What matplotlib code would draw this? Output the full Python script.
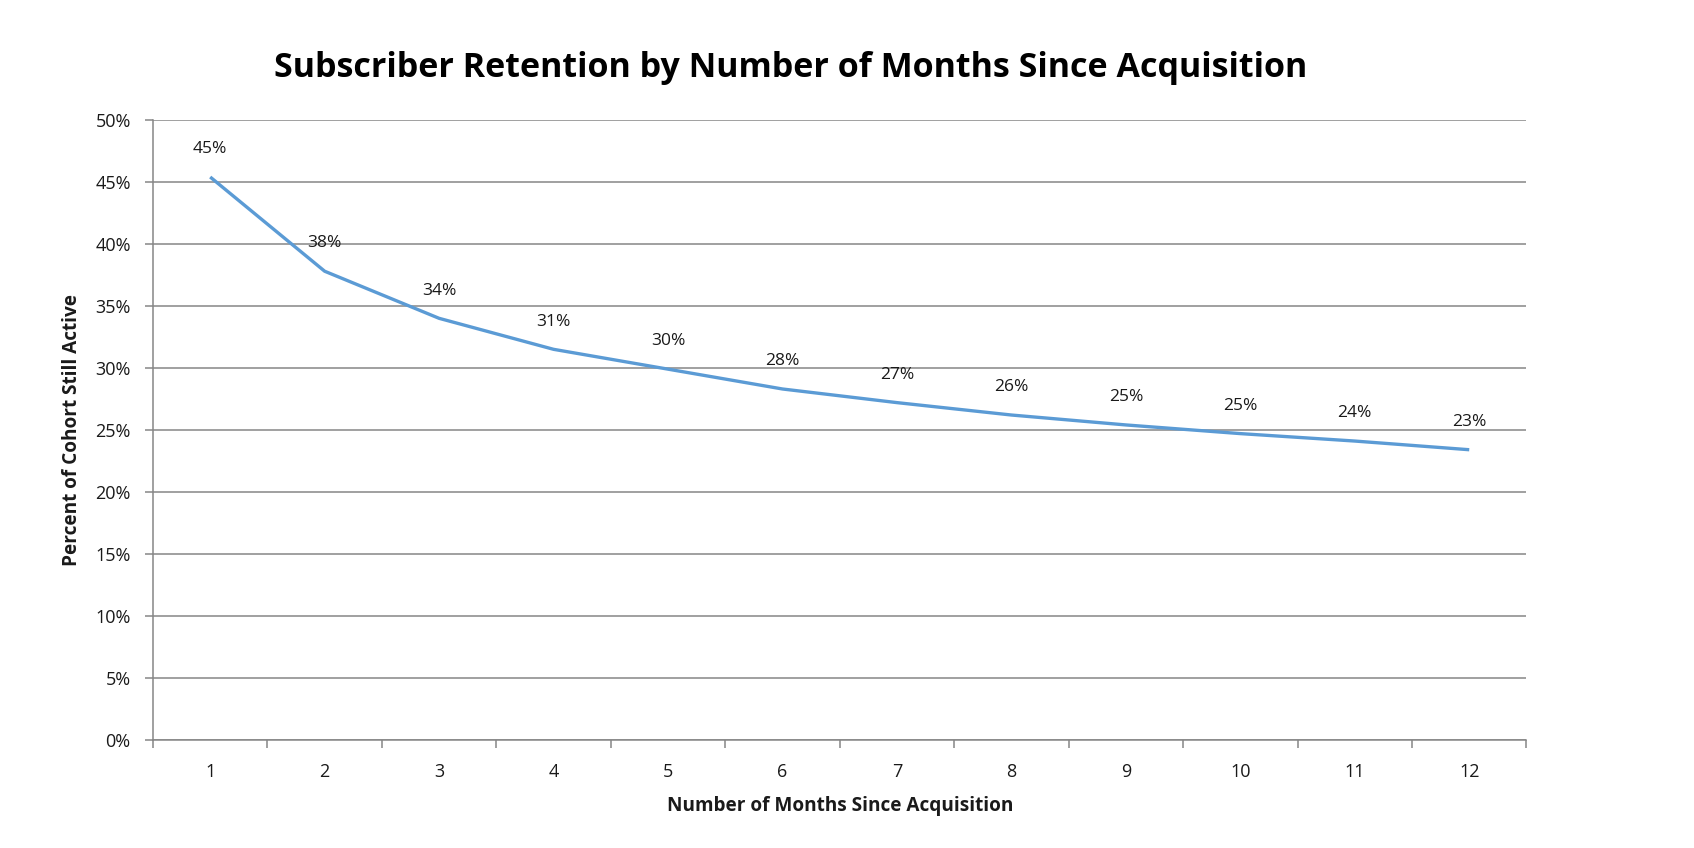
import numpy as np
import matplotlib
matplotlib.use("Agg")
import matplotlib.pyplot as plt
from matplotlib.ticker import FixedLocator, PercentFormatter

# data
months = [1, 2, 3, 4, 5, 6, 7, 8, 9, 10, 11, 12]
retention = [45.4, 37.8, 34.0, 31.5, 29.9, 28.3, 27.2, 26.2, 25.4, 24.7, 24.1, 23.4]
point_labels = ["45%", "38%", "34%", "31%", "30%", "28%", "27%", "26%", "25%", "25%", "24%", "23%"]
y_ticks = [0, 5, 10, 15, 20, 25, 30, 35, 40, 45, 50]

plt.rcParams["font.family"] = ["Open Sans", "DejaVu Sans"]

grey = "#868686"
blue = "#5B9BD5"
ink = "#1a1a1a"

fig = plt.figure(figsize=(16.94, 8.48), dpi=100)
ax = fig.add_axes([0.0903, 0.1276, 0.8108, 0.7309])

ax.plot(months, retention, color=blue, linewidth=2.4, solid_capstyle="butt")

for m, v, lab in zip(months, retention, point_labels):
    ax.annotate(lab, (m, v), xytext=(0, 20), textcoords="offset points",
                ha="center", va="center", fontsize=12.5, color=ink)

ax.set_xlim(0.5, 12.5)
ax.set_ylim(0, 50)

# x: labels at integers, tick marks between categories
ax.xaxis.set_major_locator(FixedLocator(months))
ax.xaxis.set_minor_locator(FixedLocator(np.arange(0.5, 13, 1)))
ax.tick_params(axis="x", which="major", length=0, pad=17, labelsize=13, labelcolor=ink)
ax.tick_params(axis="x", which="minor", length=6, width=1.1, color=grey, direction="out")

ax.yaxis.set_major_locator(FixedLocator(y_ticks))
ax.yaxis.set_major_formatter(PercentFormatter(decimals=0))
ax.tick_params(axis="y", which="major", length=6, width=1.1, color=grey, pad=10,
               labelsize=13, labelcolor=ink)

ax.grid(axis="y", color=grey, linewidth=1.1)
ax.set_axisbelow(True)
for s in ["top", "right"]:
    ax.spines[s].set_visible(False)
for s in ["left", "bottom"]:
    ax.spines[s].set_color(grey)
    ax.spines[s].set_linewidth(1.1)

ax.set_xlabel("Number of Months Since Acquisition", fontsize=13.7, fontweight="bold",
              color=ink)
ax.xaxis.set_label_coords(0.5, -0.090)
ax.set_ylabel("Percent of Cohort Still Active", fontsize=13.7, fontweight="bold",
              color=ink)
ax.yaxis.set_label_coords(-0.052, 0.5)

fig.text(0.467, 0.92, "Subscriber Retention by Number of Months Since Acquisition",
         ha="center", va="center", fontsize=24.5, fontweight="bold", color="black")

fig.savefig("out.png", dpi=100, facecolor="white")
